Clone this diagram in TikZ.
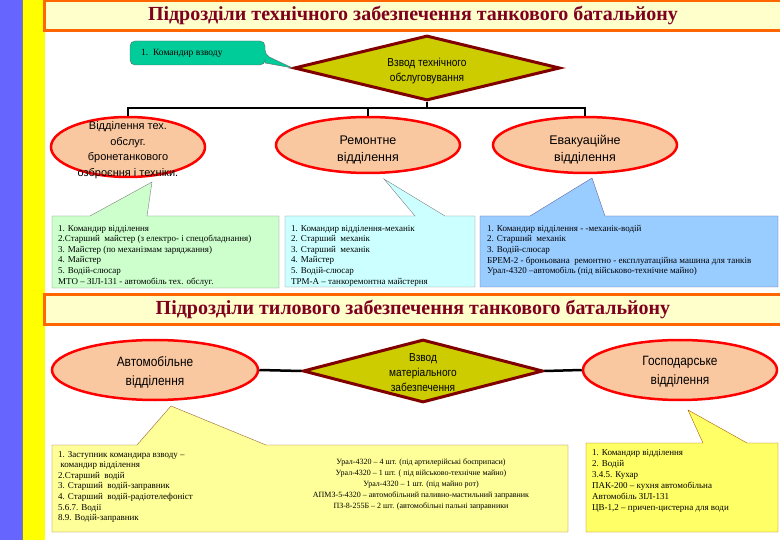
\documentclass[tikz,border=0pt]{standalone}
\usepackage{fontspec}
\setmainfont{Liberation Serif}
\newfontfamily\narrowsans[FakeStretch=0.88]{Liberation Sans}
\newfontfamily\plainsans{Liberation Sans}
\usetikzlibrary{shapes.geometric}

\definecolor{stripblue}{RGB}{102,102,255}
\definecolor{stripyellow}{RGB}{255,255,0}
\definecolor{headline}{RGB}{255,102,0}
\definecolor{headfill}{RGB}{255,255,204}
\definecolor{headred}{RGB}{128,0,32}
\definecolor{platoonfill}{RGB}{204,204,0}
\definecolor{platoonline}{RGB}{128,0,0}
\definecolor{squadfill}{RGB}{250,200,160}
\definecolor{greennote}{RGB}{204,255,204}
\definecolor{cyannote}{RGB}{204,255,255}
\definecolor{bluenote}{RGB}{153,204,255}
\definecolor{palenote}{RGB}{255,255,153}
\definecolor{yellownote}{RGB}{255,255,102}
\definecolor{tealnote}{RGB}{0,204,153}

\begin{document}
\begin{tikzpicture}[x=1pt,y=-1pt,
  headbar/.style={draw=headline, line width=3pt, fill=headfill, text=headred,
    font=\fontsize{20}{22}\selectfont\bfseries, minimum width=737pt, minimum height=30pt},
  platoon/.style={diamond, aspect=4, draw=platoonline, line width=3pt, fill=platoonfill,
    inner sep=0pt, align=center, font=\narrowsans\fontsize{11.5}{15}\selectfont},
  squad/.style={ellipse, draw=red, line width=2.5pt, fill=squadfill, inner sep=0pt},
  squadtext/.style={inner sep=0pt, align=center},
  link/.style={line width=2.5pt},
  notetext/.style={inner sep=0pt, anchor=north west, align=left,
    font=\fontsize{9}{10.6}\selectfont}
]
\useasboundingbox (0,0) rectangle (780,540);
\fill[white] (0,0) rectangle (780,540);

% side strips
\fill[stripblue] (0,0) rectangle (22,540);
\fill[stripyellow] (23,0) rectangle (45,540);
\draw[gray] (22.5,0) -- (22.5,540);

% ---- technical support ----
\node[headbar] (head1) at (413,16) {Підрозділи технічного забезпечення танкового батальйону};

\node[platoon, minimum width=266pt, minimum height=65pt] (d1) at (427,68) {};
\node[squadtext, font=\narrowsans\fontsize{11.5}{15}\selectfont] at (427,71)
  {Взвод технічного\\обслуговування};

\node[squad, minimum width=154pt, minimum height=60pt] (e1) at (128,147) {};
\node[squadtext, font=\plainsans\fontsize{11}{15.5}\selectfont] at (128,150)
  {Відділення тех.\\обслуг.\\бронетанкового\\озброєння і техніки.};
\node[squad, minimum width=184pt, minimum height=56pt] (e2) at (368,145) {};
\node[squadtext, font=\plainsans\fontsize{12.5}{17}\selectfont] at (368,150) {Ремонтне\\відділення};
\node[squad, minimum width=184pt, minimum height=56pt] (e3) at (585,145) {};
\node[squadtext, font=\plainsans\fontsize{12.5}{17}\selectfont] at (585,150) {Евакуаційне\\відділення};

\coordinate (fork) at (427,108);
\draw[link] (d1.south) -- (fork);
\draw[link] (e1.north) |- (fork) -| (e3.north);
\draw[link] (e2.north) -- (e2.north |- fork);

% callouts of the first row
\draw[draw=black!60, fill=tealnote, rounded corners=5pt]
  (130,41) -- (265,41) -- (265,55) [sharp corners] -- (d1.west) -- (265,63)
  [rounded corners=5pt] -- (265,65) -- (130,65) -- cycle;
\node[inner sep=0pt, anchor=west, font=\fontsize{9.5}{11}\selectfont] (t0) at (141,53) {1.~~Командир взводу};

\coordinate (g tip) at (152,182);
\draw[draw=black!50, fill=greennote]
  (52,216) -- (90,216) -- (g tip) -- (147,216) -- (279,216) -- (279,288) -- (52,288) -- cycle;
\node[notetext] (t1) at (58,225) {1. Командир відділення\\
  2.Старший~~майстер (з електро- і спецобладнання)\\
  3. Майстер (по механізмам заряджання)\\
  4. Майстер\\
  5. Водій-слюсар\\
  МТО – ЗІЛ-131 - автомобіль тех. обслуг.};

\coordinate (c tip) at (384,179);
\draw[draw=black!50, fill=cyannote]
  (285,216) -- (415,216) -- (c tip) -- (445,216) -- (475,216) -- (475,287) -- (285,287) -- cycle;
\node[notetext] (t2) at (291,225) {1. Командир відділення-механік\\
  2. Старший~~механік\\
  3. Старший~~механік\\
  4. Майстер\\
  5. Водій-слюсар\\
  ТРМ-А – танкоремонтна майстерня};

\coordinate (b tip) at (592,178);
\draw[draw=blue!40!black!60, fill=bluenote]
  (480,216) -- (530,216) -- (b tip) -- (605,216) -- (778,216) -- (778,287) -- (480,287) -- cycle;
\node[notetext] (t3) at (487,225) {1. Командир відділення - -механік-водій\\
  2. Старший~~механік\\
  3. Водій-слюсар\\
  БРЕМ-2 - броньована~~ремонтно - експлуатаційна машина для танків\\
  Урал-4320 –автомобіль (під військово-технічне майно)};

% ---- rear support ----
\node[headbar] (head2) at (413,310) {Підрозділи тилового забезпечення танкового батальйону};

\node[platoon, aspect=3.8, minimum width=240pt, minimum height=63pt] (d2) at (423,371) {};
\node[squadtext, font=\narrowsans\fontsize{11.5}{15}\selectfont] at (423,373)
  {Взвод\\матеріального\\забезпечення};
\node[squad, minimum width=206pt, minimum height=60pt] (a1) at (155,370) {};
\node[squadtext, font=\narrowsans\fontsize{13.5}{19}\selectfont] at (155,372) {Автомобільне\\відділення};
\node[squad, minimum width=194pt, minimum height=60pt] (a3) at (680,370) {};
\node[squadtext, font=\narrowsans\fontsize{13.5}{19}\selectfont] at (680,372) {Господарське\\відділення};

\draw[link] (a1.east) -- (d2.west);
\draw[link] (d2.east) -- (a3.west);

% callouts of the second row
\coordinate (p tip) at (171,406);
\draw[draw=brown!80!black, fill=palenote]
  (52,445) -- (137,445) -- (p tip) -- (266,445) -- (568,445) -- (568,532) -- (52,532) -- cycle;
\node[notetext] (t4) at (58,451) {1. Заступник командира взводу –\\
  ~командир відділення\\
  2.Старший~~водій\\
  3. Старший~~водій-заправник\\
  4. Старший~~водій-радіотелефоніст\\
  5.6.7. Водії\\
  8.9. Водій-заправник};
\node[inner sep=0pt, anchor=north, align=center, font=\fontsize{8}{11}\selectfont] (t5) at (421,459)
  {Урал-4320 – 4 шт. (під артилерійські боєприпаси)\\
  Урал-4320 – 1 шт. ( під військово-технічне майно)\\
  Урал-4320 – 1 шт. (під майно рот)\\
  АПМЗ-5-4320 – автомобільний паливно-мастильний заправник\\
  ПЗ-8-255Б – 2 шт. (автомобільні пальні заправники};

\coordinate (y tip) at (688,410);
\draw[draw=orange!70!black, fill=yellownote]
  (586,443) -- (703,443) -- (y tip) -- (747,443) -- (778,443) -- (778,532) -- (586,532) -- cycle;
\node[notetext, font=\fontsize{9}{11}\selectfont] (t6) at (592,449.5) {1. Командир відділення\\
  2. Водій\\
  3.4.5. Кухар\\
  ПАК-200 – кухня автомобільна\\
  Автомобіль ЗІЛ-131\\
  ЦВ-1,2 – причеп-цистерна для води};
\end{tikzpicture}
\end{document}
